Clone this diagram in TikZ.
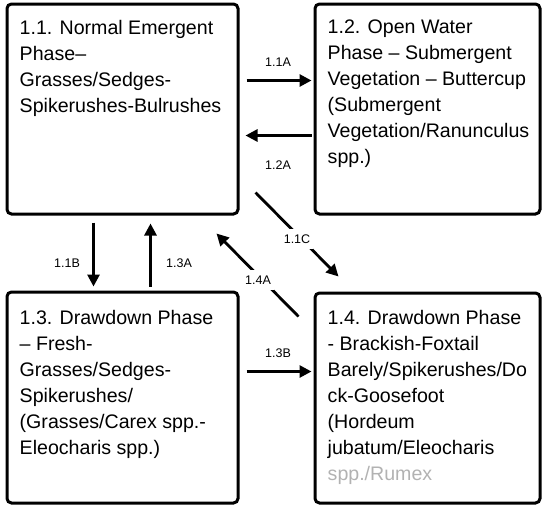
\documentclass[tikz,border=0pt]{standalone}
\usepackage{fontspec}
\setmainfont{Liberation Sans}
\usetikzlibrary{arrows.meta,calc}
\tikzset{
  statebox/.style={draw, line width=3pt, rounded corners=4.5pt, inner sep=0pt},
  boxtext/.style={anchor=base west, inner sep=0pt},
  arr/.style={line width=2.8pt, -{Triangle[length=12pt,width=12pt]}},
  lab/.style={font=\fontsize{12.5}{14}\selectfont, inner xsep=3pt, inner ysep=6pt, fill=white}
}
\newcommand{\btext}[1]{\parbox[t]{225pt}{\fontsize{19.6}{26}\selectfont\raggedright #1}}
\begin{document}
\begin{tikzpicture}[x=1pt,y=-1pt]
\useasboundingbox (0,0) rectangle (544,506);
% boxes
\node[statebox, minimum width=231pt, minimum height=210pt] (b11) at (122.5,109) {};
\node[statebox, minimum width=225pt, minimum height=210pt] (b12) at (427.5,109) {};
\node[statebox, minimum width=231pt, minimum height=211pt] (b13) at (122.5,397.5) {};
\node[statebox, minimum width=225pt, minimum height=210pt] (b14) at (427.5,398) {};
% texts
\node[boxtext] (t11) at ($(b11.north west)+(14,32)$) {\btext{1.1. Normal Emergent\\Phase–\\Grasses/Sedges-\\Spikerushes-Bulrushes}};
\node[boxtext] (t12) at ($(b12.north west)+(14,31)$) {\btext{1.2. Open Water\\Phase – Submergent\\Vegetation – Buttercup\\(Submergent\\Vegetation/Ranunculus\\spp.)}};
\node[boxtext] (t13) at ($(b13.north west)+(14,34)$) {\btext{1.3. Drawdown Phase\\– Fresh-\\Grasses/Sedges-\\Spikerushes/\\(Grasses/Carex spp.-\\Eleocharis spp.)}};
\node[boxtext] (t14) at ($(b14.north west)+(14,33)$) {\btext{1.4. Drawdown Phase\\- Brackish-Foxtail\\Barely/Spikerushes/Do\\ck-Goosefoot\\(Hordeum\\jubatum/Eleocharis\\\textcolor{black!30}{spp./Rumex}}};
% arrows
\draw[arr] ($(b11.north east)+(7,78)$) -- ($(b12.north west)+(-2,78)$);
\draw[arr] ($(b12.north west)+(-2,133)$) -- ($(b11.north east)+(6,133)$);
\draw[arr] ($(b11.south east)+(16,-23)$) -- ($(b14.north west)+(25,-15)$);
\draw[arr] ($(b14.north west)+(-15,25)$) -- ($(b11.south east)+(-23,18)$);
\draw[arr] ($(b11.south west)+(88,7)$) -- ($(b13.north west)+(88,-4)$);
\draw[arr] ($(b13.north west)+(145,-4)$) -- ($(b11.south west)+(145,8)$);
\draw[arr] ($(b13.north east)+(7,81)$) -- ($(b14.north west)+(-2,80)$);
% labels
\node[lab] (l11a) at (278,62) {1.1A};
\node[lab] (l12a) at (278,165) {1.2A};
\node[lab] (l11c) at (297,239) {1.1C};
\node[lab] (l14a) at (258,280) {1.4A};
\node[lab] (l11b) at (67,263) {1.1B};
\node[lab] (l13a) at (179,263) {1.3A};
\node[lab] (l13b) at (278,353) {1.3B};
\end{tikzpicture}
\end{document}
